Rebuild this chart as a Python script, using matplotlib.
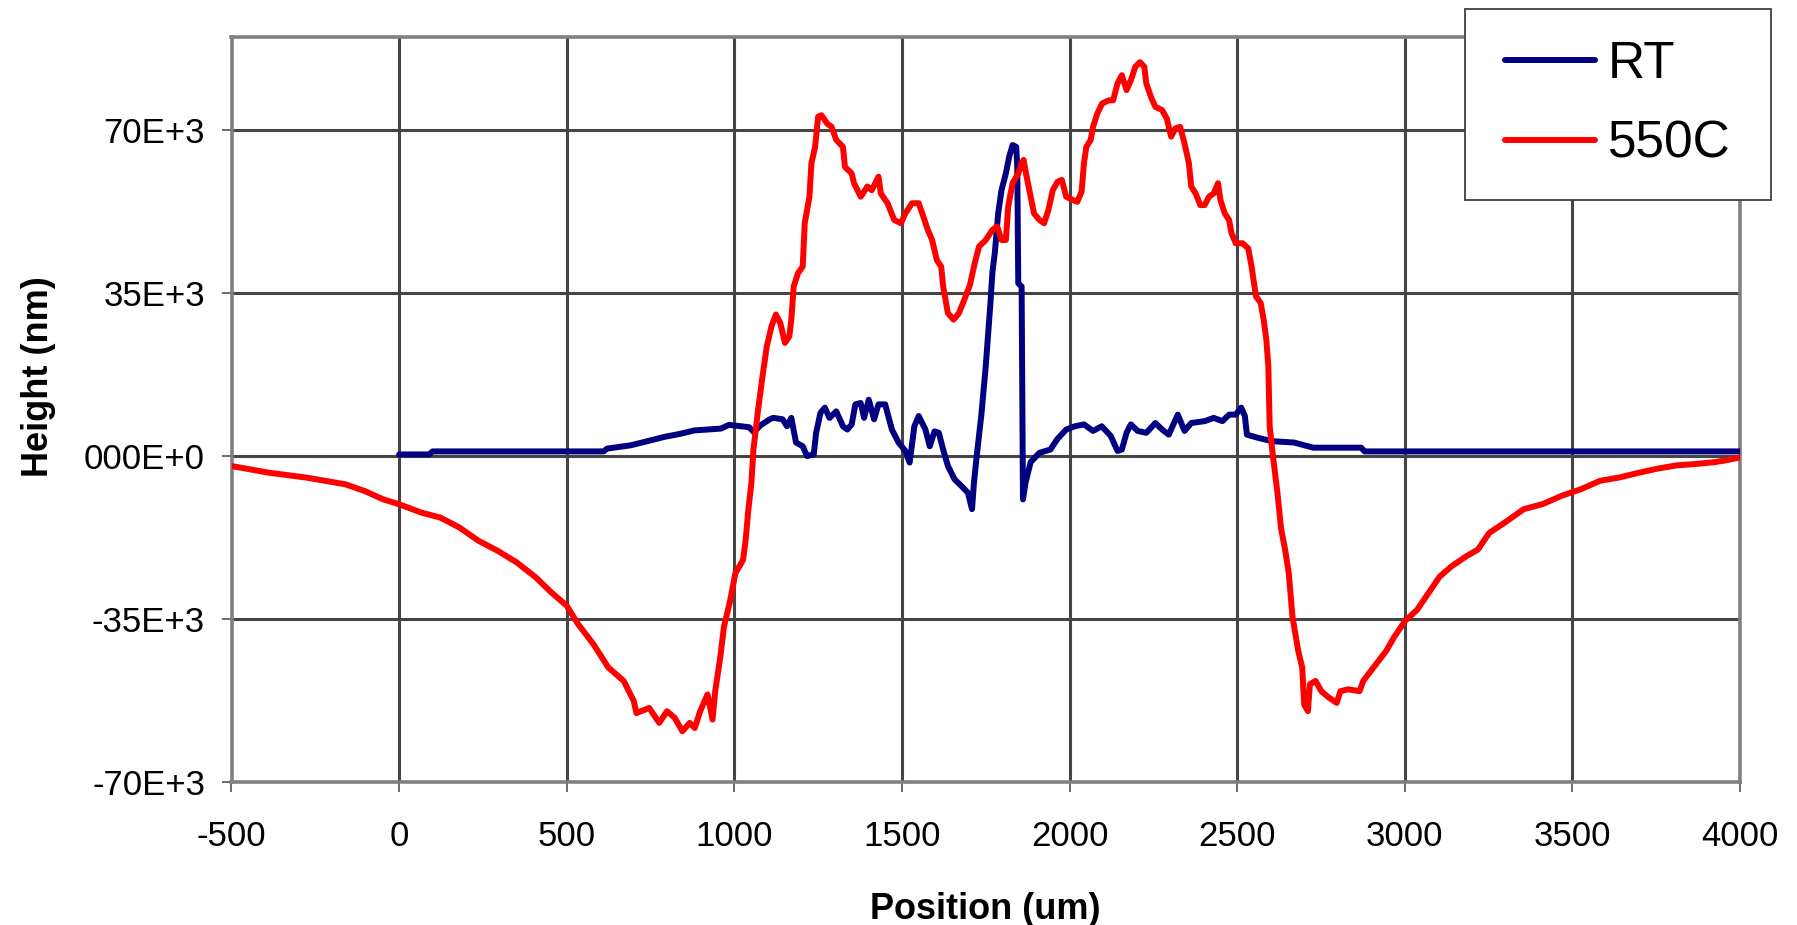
import matplotlib
matplotlib.use("Agg")
import matplotlib.pyplot as plt
from matplotlib.patches import Rectangle

plt.rcParams['font.family'] = ['Liberation Sans', 'DejaVu Sans']

# ---------------- data ----------------
rt_x = [0, 90, 100, 610, 620, 690, 730, 790, 840, 880, 960, 984, 1044, 1058, 1078, 1108,
        1117, 1144, 1157, 1170, 1184, 1204, 1217, 1237, 1244, 1257, 1270, 1284, 1304, 1324,
        1337, 1350, 1361, 1377, 1387, 1401, 1417, 1430, 1450, 1470, 1490, 1510, 1523, 1537,
        1550, 1570, 1583, 1597, 1610, 1624, 1637, 1657, 1677, 1697, 1709, 1715, 1723, 1737,
        1750, 1764, 1770, 1777, 1787, 1797, 1810, 1820, 1830, 1841, 1844, 1847, 1857, 1861,
        1869, 1884, 1910, 1943, 1963, 1990, 2016, 2043, 2070, 2096, 2123, 2143, 2156, 2170,
        2183, 2203, 2229, 2256, 2276, 2296, 2323, 2343, 2363, 2403, 2430, 2456, 2476, 2496,
        2512, 2523, 2529, 2563, 2603, 2670, 2727, 2870, 2880, 4000]
rt_y = [350, 350, 1000, 1000, 1600, 2300, 3000, 4100, 4800, 5500, 5900, 6700, 6200, 5150, 6600, 8000,
        8200, 7900, 6400, 8200, 2900, 2100, 0, 400, 5000, 9300, 10400, 8200, 9600, 6400,
        5700, 6800, 11100, 11400, 8200, 12100, 7900, 11100, 11100, 5700, 2900, 1100, -1400, 6400,
        8600, 5700, 2100, 5300, 5000, 1100, -2100, -5000, -6400, -7900, -11400, -5600, 0, 8900,
        19300, 32900, 39600, 43600, 52100, 57100, 60700, 64300, 66800, 66400, 62100, 37100, 36400, -9300,
        -5600, -1300, 700, 1400, 3600, 5700, 6400, 6800, 5400, 6400, 4300, 1100, 1400, 5000,
        6800, 5400, 5000, 7100, 5700, 4600, 8900, 5400, 7100, 7500, 8200, 7500, 8900, 8900,
        10400, 8600, 4600, 3900, 3200, 2900, 1800, 1800, 1000, 1000]

hot_x = [-500, -389, -275, -160, -103, -48, 0, 66, 123, 180, 237, 294, 351, 408, 454, 500,
         533, 579, 624, 670, 700, 708, 746, 776, 799, 822, 845, 867, 882, 898, 920, 935,
         943, 958, 969, 988, 1003, 1026, 1034, 1041, 1051, 1057, 1071, 1084, 1097, 1111, 1124, 1137,
         1151, 1164, 1170, 1177, 1190, 1204, 1210, 1224, 1230, 1241, 1250, 1260, 1277, 1290,
         1304, 1324, 1330, 1350, 1357, 1377, 1397, 1410, 1430, 1437, 1457, 1477, 1497, 1510,
         1530, 1550, 1564, 1577, 1590, 1604, 1617, 1623, 1637, 1654, 1670, 1684, 1703, 1717,
         1730, 1750, 1770, 1784, 1797, 1810, 1817, 1830, 1847, 1857, 1863, 1870, 1884, 1894,
         1910, 1924, 1937, 1950, 1964, 1977, 1990, 2010, 2023, 2036, 2043, 2050, 2063, 2070,
         2083, 2097, 2117, 2130, 2143, 2156, 2170, 2183, 2196, 2210, 2223, 2229, 2243, 2256,
         2276, 2290, 2303, 2316, 2330, 2343, 2356, 2363, 2376, 2390, 2403, 2416, 2430, 2443,
         2450, 2463, 2476, 2483, 2496, 2516, 2533, 2543, 2556, 2570, 2579, 2587, 2593, 2597,
         2605, 2620, 2631, 2643, 2654, 2665, 2682, 2694, 2700, 2711, 2717, 2734, 2751, 2774,
         2797, 2808, 2831, 2865, 2876, 2911, 2945, 2968, 3002, 3036, 3070, 3104, 3139, 3184,
         3218, 3252, 3298, 3355, 3412, 3469, 3526, 3583, 3640, 3697, 3754, 3811, 3868, 3925,
         3959, 4000]
hot_y = [-2140, -3570, -4640, -6070, -7500, -9280, -10350, -12140, -13210, -15350, -18200, -20350, -22850, -26070, -29280, -32140,
         -36000, -40340, -45400, -48300, -52600, -55200, -54100, -57300, -54800, -56200, -59100, -57300, -58400, -54800, -51200, -56600,
         -50500, -43200, -36700, -30900, -25200, -22300, -17900, -12100, -5700, 1400, 10000, 17100, 23600, 27900, 30400, 28600,
         24300, 25700, 29300, 36400, 39300, 40700, 50000, 55700, 62900, 66400, 72900, 73200, 71400, 70700,
         67900, 66400, 62100, 60700, 58600, 55700, 57900, 57100, 60000, 56400, 54300, 50700, 50000, 52100,
         54300, 54300, 51400, 48600, 46400, 42100, 40700, 36400, 30700, 29300, 30700, 33200, 36800, 41400,
         45000, 46400, 48600, 49300, 46400, 46400, 53600, 58600, 60700, 62900, 63600, 60700, 55700, 52100,
         50700, 50000, 52900, 57100, 58900, 59300, 55700, 55000, 54600, 56800, 62900, 66400, 67900, 70700,
         73600, 75700, 76400, 76400, 80000, 81800, 78600, 80700, 83600, 84600, 83600, 80000, 77100, 75000,
         74300, 72500, 68600, 70400, 70700, 67100, 62900, 57900, 56400, 53900, 53900, 55700, 56400, 58600,
         55000, 52100, 50700, 47900, 45700, 45700, 44600, 40700, 34300, 32900, 29300, 25000, 19300, 6400,
         1000, -7800, -15600, -20100, -25200, -34500, -41800, -45400, -53400, -54800, -49000, -48300, -50500, -51900,
         -53000, -50500, -50100, -50500, -48300, -45000, -41800, -38900, -35300, -33100, -29500, -25900, -23700, -21500,
         -20100, -16500, -14300, -11400, -10300, -8500, -7100, -5300, -4600, -3600, -2700, -2000, -1700, -1300,
         -900, -300]

series_names = ["RT", "550C"]
x_ticks = [-500, 0, 500, 1000, 1500, 2000, 2500, 3000, 3500, 4000]
x_tick_labels = ["-500", "0", "500", "1000", "1500", "2000", "2500", "3000", "3500", "4000"]
y_ticks = [-70000, -35000, 0, 35000, 70000]
y_tick_labels = ["-70E+3", "-35E+3", "000E+0", "35E+3", "70E+3"]

# ---------------- figure ----------------
W, H = 1797, 925
fig = plt.figure(figsize=(W / 100, H / 100), dpi=100)
left, right, top, bottom = 231.5, 1740, 37, 782
ax = fig.add_axes([left / W, 1 - bottom / H, (right - left) / W, (bottom - top) / H])

lw = 4.3
l1, = ax.plot(rt_x, rt_y, color='#000080', lw=lw, solid_joinstyle='round',
              solid_capstyle='round', zorder=3, label=series_names[0])
l2, = ax.plot(hot_x, hot_y, color='#FF0000', lw=lw, solid_joinstyle='round',
              solid_capstyle='round', zorder=3, label=series_names[1])

ax.set_xlim(-500, 4000)
ax.set_ylim(-70000, 90000)
ax.set_xticks(x_ticks)
ax.set_xticklabels(x_tick_labels)
ax.set_yticks(y_ticks)
ax.set_yticklabels(y_tick_labels)

ax.grid(True, color='#454545', lw=2.2, zorder=1)
ax.set_axisbelow(True)
for s in ax.spines.values():
    s.set_color('#808080')
    s.set_linewidth(2.6)

ax.tick_params(axis='both', direction='out', length=7, width=1.3, color='#606060',
               labelsize=25, labelcolor='black')
ax.tick_params(axis='x', pad=20)
ax.tick_params(axis='y', pad=12)

ax.set_xlabel("Position (um)", fontsize=26, fontweight='bold')
ax.xaxis.set_label_coords(0.5, -0.148)
ax.set_ylabel("Height (nm)", fontsize=26, fontweight='bold', va='center')
ax.yaxis.set_label_coords(-0.128, 0.544)

# legend box
bx0, bx1, by0, by1 = 1465, 1771, 9, 200
rect = Rectangle((bx0 / W, 1 - by1 / H), (bx1 - bx0) / W, (by1 - by0) / H,
                 transform=fig.transFigure, facecolor='white', edgecolor='#404040',
                 lw=1.3, zorder=5)
fig.add_artist(rect)
leg = fig.legend(handles=[l1, l2], loc='center',
                 bbox_to_anchor=((bx0 + bx1) / 2 / W, 1 - (by0 + by1) / 2 / H),
                 frameon=False, fontsize=37, handlelength=1.75, handletextpad=0.25,
                 labelspacing=0.6, borderpad=0)
leg.set_zorder(6)
for h in leg.legend_handles:
    h.set_solid_capstyle('round')
    h.set_linewidth(4.3)

fig.savefig("out.png", dpi=100)
